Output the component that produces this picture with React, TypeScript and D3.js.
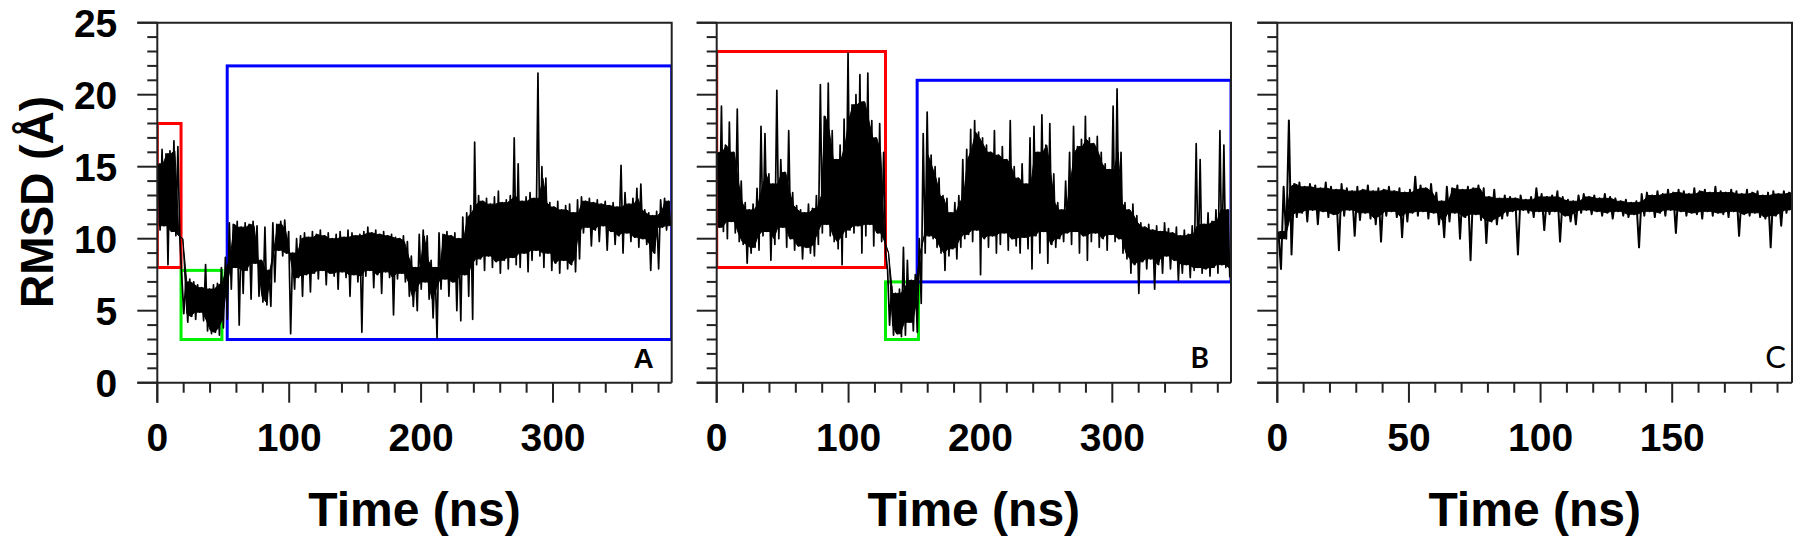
import React from 'react';
import * as d3 from 'd3';

// ---------- data (RMSD in Å; per-window max / min of the trace) ----------
const A_STEP = 3; // ns per window
const A_HI = [15.2,16.2,15.9,16.1,16.8,16.4,
  7.3,7.0,7.2,7.0,6.8,6.6,8.2,6.5,6.8,6.9,8.0,8.7,
  11.1,11.0,11.2,10.8,11.1,11.0,11.2,10.9,8.5,10.8,7.8,11.1,
  11.0,11.2,11.3,10.5,9.0,10.0,10.2,10.4,10.1,10.5,10.3,10.6,
  10.2,10.4,10.0,10.3,10.5,10.1,10.6,10.4,10.2,10.3,10.5,10.8,
  10.4,10.6,10.3,10.5,10.2,10.3,10.1,10.0,10.2,9.8,8.8,8.0,
  10.3,10.6,10.2,8.5,8.0,10.4,10.3,10.5,10.2,10.4,10.0,11.5,
  11.8,12.3,16.7,13.0,12.6,12.8,12.4,12.9,13.3,12.5,12.7,13.0,
  17.0,15.2,12.6,12.9,13.2,12.8,21.5,15.0,14.2,12.5,12.2,12.6,
  12.0,12.3,12.4,11.8,12.7,12.9,12.6,12.8,12.5,12.7,12.4,12.6,
  12.3,12.5,12.2,15.1,13.2,12.4,12.8,13.5,13.8,12.0,11.8,11.6,
  11.9,12.7,12.8,12.6];
const A_LO = [10.6,10.9,8.2,10.5,10.2,10.0,
  4.8,4.2,4.6,4.4,4.9,4.3,3.6,3.4,3.5,3.3,3.8,4.4,
  6.5,8.0,4.0,6.2,7.8,5.8,8.3,6.0,5.6,5.4,5.3,7.0,
  9.2,8.8,9.0,3.4,6.5,7.3,6.0,7.5,6.3,7.6,7.2,7.8,
  6.8,7.6,7.4,6.5,7.7,7.3,6.0,7.5,7.0,3.5,7.4,7.8,
  6.6,7.5,6.2,7.7,7.3,4.7,7.2,7.6,7.0,6.0,5.3,5.0,
  6.5,7.0,5.8,4.5,3.1,6.5,7.2,6.0,7.0,5.0,4.3,7.5,
  6.0,4.4,8.2,8.6,7.8,8.8,8.0,8.4,7.6,8.5,7.9,8.7,
  8.2,8.0,9.0,7.7,8.5,9.2,8.8,8.0,9.0,7.8,8.3,7.6,
  8.5,7.9,8.2,7.7,8.6,10.4,10.8,9.5,10.6,9.8,10.9,9.2,
  10.5,9.6,10.2,9.0,10.4,9.8,10.1,9.4,10.0,9.6,7.8,9.0,
  7.9,10.8,10.6,10.9];

const B_STEP = 3;
const B_HI = [16.0,19.2,16.5,18.1,16.0,19.0,14.0,12.5,12.0,12.4,13.5,17.8,
  17.3,14.5,13.8,20.3,15.5,14.6,17.5,13.2,12.3,12.0,11.8,12.4,
  12.1,13.0,20.7,18.5,20.8,17.5,15.5,16.5,18.3,22.9,19.3,20.0,
  21.4,19.5,21.5,18.2,17.0,18.0,16.0,7.8,6.7,6.2,6.5,9.4,
  8.5,7.1,7.5,10.0,17.3,18.8,15.8,15.0,14.2,13.0,12.8,11.8,
  12.5,13.0,15.5,16.2,17.6,18.2,17.4,17.0,16.5,16.0,17.5,15.8,
  16.4,15.5,18.2,15.0,14.2,15.2,13.8,17.0,17.8,16.0,18.6,16.5,
  18.0,14.5,12.5,12.0,14.0,16.0,17.8,16.4,16.9,18.5,17.0,16.6,
  17.1,16.0,15.2,14.8,19.2,20.4,16.0,12.5,12.0,12.4,11.6,11.1,
  10.8,11.0,10.6,10.9,10.5,11.1,10.7,10.4,10.8,10.2,10.6,10.3,
  10.9,16.6,15.5,11.0,11.8,11.2,12.0,17.5,16.5,12.0];
const B_LO = [10.8,10.5,10.0,11.2,10.4,9.8,9.6,8.3,9.0,9.4,9.2,10.2,
  10.5,8.5,9.6,10.0,10.8,9.4,10.0,9.2,9.5,8.6,9.4,9.0,
  8.8,9.6,10.4,11.0,10.2,9.8,9.3,8.2,10.1,10.6,10.4,10.9,
  9.0,10.2,11.0,9.5,10.4,9.8,9.0,4.0,3.3,3.4,3.2,3.3,
  4.2,3.6,3.5,5.5,9.0,10.2,10.0,9.4,9.0,7.8,8.8,9.3,
  8.6,9.4,10.0,10.3,9.8,10.6,7.5,10.0,9.4,10.2,9.0,9.6,
  10.4,9.2,10.0,9.5,9.0,10.1,9.3,7.9,10.2,9.0,10.5,8.3,
  9.6,9.4,10.0,9.8,10.4,9.6,10.5,9.0,10.2,8.5,9.8,10.4,
  9.4,10.0,9.2,10.3,9.8,10.0,9.0,8.6,7.6,8.2,6.2,8.4,
  7.9,8.6,6.5,8.2,7.6,8.8,7.9,8.5,7.1,7.6,8.2,7.3,
  7.8,8.0,7.6,7.9,7.4,8.0,7.6,8.2,8.0,7.3];

const C_STEP = 2;
const C_HI = [10.5,13.6,18.2,13.8,13.9,13.6,13.8,13.7,13.5,13.9,
  13.6,13.4,13.8,13.5,13.3,13.6,13.4,13.7,13.3,13.5,
  13.4,13.6,13.3,13.5,13.2,13.4,14.3,13.7,13.5,13.8,
  13.2,12.6,13.6,13.5,13.7,13.4,13.6,13.5,13.7,13.5,
  12.9,13.4,12.8,13.0,12.9,12.8,13.0,12.7,12.9,13.5,
  13.1,12.9,13.0,13.3,12.9,12.7,12.6,13.0,13.1,12.9,
  13.0,12.8,13.1,12.9,12.8,12.6,12.7,12.5,12.6,13.1,
  13.2,13.0,13.3,13.1,13.4,13.2,13.4,13.3,13.1,13.5,
  13.3,13.4,13.2,13.6,13.3,13.2,13.4,13.3,13.1,13.4,
  13.2,13.3,13.0,13.2,13.3,13.1,13.3,13.2];
const C_LO = [7.9,10.0,8.9,11.5,11.8,11.2,12.0,11.0,11.9,11.5,
  11.7,9.2,11.6,12.0,10.2,11.3,11.8,11.4,11.0,9.8,
  11.6,11.9,11.5,10.1,11.2,11.8,11.6,11.9,11.4,11.8,
  11.0,10.1,11.2,11.8,10.0,11.5,8.5,11.7,11.3,9.7,
  11.2,11.0,11.4,11.6,11.9,8.9,12.0,11.8,11.5,11.9,
  10.6,11.7,11.9,9.8,11.6,11.2,11.0,11.8,12.0,11.7,
  11.9,11.6,11.8,11.4,11.9,11.6,11.5,11.7,9.4,11.6,
  11.9,11.5,11.8,11.6,12.0,10.4,11.9,11.6,11.8,11.7,
  11.4,11.9,11.6,11.8,11.7,11.5,11.9,10.2,11.7,11.6,
  11.8,11.5,11.4,9.4,11.6,10.9,11.8,12.0];

// state boxes [t0, t1, rmsdLow, rmsdHigh]
const A_BOXES = [
  { t0: 0, t1: 18, v0: 8, v1: 18, color: '#ff0000' },
  { t0: 18, t1: 49, v0: 3, v1: 7.8, color: '#00ee00' },
  { t0: 53, t1: 390, v0: 3, v1: 22, color: '#0000ff' },
];
const B_BOXES = [
  { t0: 0, t1: 128, v0: 8, v1: 23, color: '#ff0000' },
  { t0: 128, t1: 153, v0: 3, v1: 7, color: '#00ee00' },
  { t0: 152, t1: 390, v0: 7, v1: 21, color: '#0000ff' },
];

const Y_MAJOR = [0, 5, 10, 15, 20, 25];
const AB_MAJOR = [0, 100, 200, 300];
const C_MAJOR = [0, 50, 100, 150];
const AB_MAX = 390;
const C_MAX = 195.5;
const PANEL_LABELS = ['A', 'B', 'C'];
const X_TITLE = 'Time (ns)';
const Y_TITLE = 'RMSD (Å)';

// ---------- layout ----------
const TOP = 22.7;
const BOTTOM = 382.7;
const AX = '#222';
const FONT = "'Liberation Sans', Arial, sans-serif";

type Box = { t0: number; t1: number; v0: number; v1: number; color: string };

function Panel(props: {
  id: string; left: number; width: number; xMax: number; majors: number[]; minorStep: number;
  hi: number[]; lo: number[]; step: number; boxes: Box[]; label: string; labelFont: string;
  labelWeight: number; labelSize: number; labelDx: number; yLabels: boolean; traceWidth: number;
}) {
  const { id, left, width, xMax, majors, minorStep, hi, lo, step, boxes, label } = props;
  const x = d3.scaleLinear().domain([0, xMax]).range([left, left + width]);
  const y = d3.scaleLinear().domain([0, 25]).range([BOTTOM, TOP]);
  const pts: [number, number][] = [];
  hi.forEach((h, i) => {
    pts.push([i * step + 0.2 * step, h]);
    pts.push([i * step + 0.7 * step, lo[i]]);
  });
  const line = d3.line<[number, number]>().x(d => x(d[0])).y(d => y(d[1]));
  // dense core of the trace: the part every neighbouring window covers
  const n = hi.length;
  const core = hi.map((_, i) => {
    const a = Math.max(0, i - 1), b = Math.min(n - 1, i + 1);
    const top = Math.min(...hi.slice(a, b + 1));
    const bot = Math.max(...lo.slice(a, b + 1));
    return { t: i * step + 0.45 * step, top: Math.max(top, bot), bot };
  });
  const area = d3.area<{ t: number; top: number; bot: number }>()
    .x(d => x(d.t)).y0(d => y(d.bot)).y1(d => y(d.top));
  const xMinor = d3.range(0, xMax + 1e-6, minorStep).filter(v => !majors.includes(v));
  const yMinor = d3.range(0, 26, 1).filter(v => !Y_MAJOR.includes(v));
  const right = left + width;
  return (
    <g>
      <defs>
        <clipPath id={`clip-${id}`}>
          <rect x={left} y={TOP} width={width} height={BOTTOM - TOP} />
        </clipPath>
      </defs>
      <g clipPath={`url(#clip-${id})`}>
        {boxes.map((b, i) => (
          <rect key={i} x={x(b.t0)} y={y(b.v1)} width={x(b.t1) - x(b.t0)} height={y(b.v0) - y(b.v1)}
            fill="none" stroke={b.color} strokeWidth={3} />
        ))}
        <path d={area(core) || ''} fill="#000" stroke="#000" strokeWidth={1} />
        <path d={line(pts) || ''} fill="none" stroke="#000" strokeWidth={props.traceWidth}
          strokeLinejoin="round" />
      </g>
      {/* frame */}
      <path d={`M${left - 20},${TOP}H${right}V${BOTTOM}`} fill="none" stroke={AX} strokeWidth={2} />
      <line x1={left - 20} x2={right} y1={BOTTOM} y2={BOTTOM} stroke={AX} strokeWidth={2} />
      <line x1={left} x2={left} y1={TOP} y2={BOTTOM + 20} stroke={AX} strokeWidth={2} />
      {/* y ticks */}
      {Y_MAJOR.map(v => (
        <line key={'ym' + v} x1={left - 20} x2={left} y1={y(v)} y2={y(v)} stroke={AX} strokeWidth={2} />
      ))}
      {yMinor.map(v => (
        <line key={'yn' + v} x1={left - 10} x2={left} y1={y(v)} y2={y(v)} stroke={AX} strokeWidth={2} />
      ))}
      {props.yLabels && Y_MAJOR.map(v => (
        <text key={'yl' + v} x={left - 40} y={y(v) + 14} textAnchor="end" fontFamily={FONT}
          fontWeight="bold" fontSize={39} fill="#000">{v}</text>
      ))}
      {/* x ticks */}
      {majors.map(v => (
        <line key={'xm' + v} x1={x(v)} x2={x(v)} y1={BOTTOM} y2={BOTTOM + 20} stroke={AX} strokeWidth={2} />
      ))}
      {xMinor.map(v => (
        <line key={'xn' + v} x1={x(v)} x2={x(v)} y1={BOTTOM} y2={BOTTOM + 10} stroke={AX} strokeWidth={2} />
      ))}
      {majors.map(v => (
        <text key={'xl' + v} x={x(v)} y={451} textAnchor="middle" fontFamily={FONT}
          fontWeight="bold" fontSize={39} fill="#000">{v}</text>
      ))}
      <text x={left + width / 2} y={526} textAnchor="middle" fontFamily={FONT}
        fontWeight="bold" fontSize={48} fill="#000">{X_TITLE}</text>
      <text x={right - props.labelDx} y={368} textAnchor="end" fontFamily={props.labelFont}
        fontWeight={props.labelWeight} fontSize={props.labelSize} fill="#000">{label}</text>
    </g>
  );
}

export default function App() {
  return (
    <svg width={1800} height={540} viewBox="0 0 1800 540"
      style={{ position: 'absolute', left: 0, top: 0, background: '#fff' }}>
      <rect x={0} y={0} width={1800} height={540} fill="#fff" />
      <Panel id="a" left={157.3} width={514.4} xMax={AB_MAX} majors={AB_MAJOR} minorStep={20}
        hi={A_HI} lo={A_LO} step={A_STEP} boxes={A_BOXES} label={PANEL_LABELS[0]}
        labelFont={FONT} labelWeight={700} labelSize={28} labelDx={18} yLabels={true} traceWidth={1.7} />
      <Panel id="b" left={716.7} width={514.3} xMax={AB_MAX} majors={AB_MAJOR} minorStep={20}
        hi={B_HI} lo={B_LO} step={B_STEP} boxes={B_BOXES} label={PANEL_LABELS[1]}
        labelFont="Lato, sans-serif" labelWeight={700} labelSize={28} labelDx={22} yLabels={false} traceWidth={1.7} />
      <Panel id="c" left={1277.3} width={514.7} xMax={C_MAX} majors={C_MAJOR} minorStep={10}
        hi={C_HI} lo={C_LO} step={C_STEP} boxes={[]} label={PANEL_LABELS[2]}
        labelFont="Lato, sans-serif" labelWeight={400} labelSize={31} labelDx={6} yLabels={false} traceWidth={2.0} />
      <text transform="translate(53,202) rotate(-90)" textAnchor="middle" fontFamily={FONT}
        fontWeight="bold" fontSize={46} fill="#000">{Y_TITLE}</text>
    </svg>
  );
}
